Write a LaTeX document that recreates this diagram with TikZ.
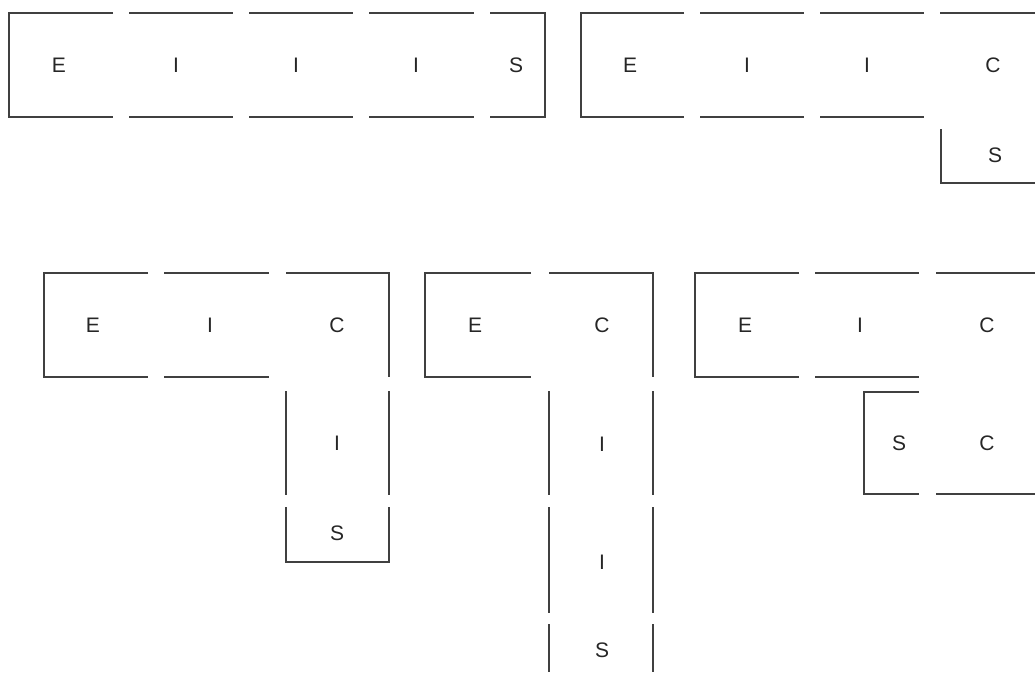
\documentclass[tikz,border=0pt]{standalone}
\usepackage{fontspec}
\setmainfont{Liberation Sans}
\tikzset{
  box/.style={draw=black!75,line width=1.6pt},
  lbl/.style={inner sep=0pt,text=black!85,font=\fontsize{21}{21}\selectfont}
}
\begin{document}
\begin{tikzpicture}[x=1pt,y=-1pt]
  \useasboundingbox (0,0) rectangle (1035,672);
  \clip (0,0) rectangle (1035,672);
  \draw[box] (113,13)--(9,13)--(9,117)--(113,117);
  \draw[box] (129,13)--(233,13);
  \draw[box] (129,117)--(233,117);
  \draw[box] (249,13)--(353,13);
  \draw[box] (249,117)--(353,117);
  \draw[box] (369,13)--(474,13);
  \draw[box] (369,117)--(474,117);
  \draw[box] (490,13)--(545,13)--(545,117)--(490,117);
  \node[lbl] (a1) at (59,65) {E};
  \node[lbl] (a2) at (176,65) {I};
  \node[lbl] (a3) at (296,65) {I};
  \node[lbl] (a4) at (416,65) {I};
  \node[lbl] (a5) at (516,65) {S};

  \draw[box] (684,13)--(581,13)--(581,117)--(684,117);
  \draw[box] (700,13)--(804,13);
  \draw[box] (700,117)--(804,117);
  \draw[box] (820,13)--(924,13);
  \draw[box] (820,117)--(924,117);
  \draw[box] (940,13)--(1035,13);
  \draw[box] (941,129)--(941,183)--(1035,183);
  \node[lbl] (b1) at (630,65) {E};
  \node[lbl] (b2) at (747,65) {I};
  \node[lbl] (b3) at (867,65) {I};
  \node[lbl] (b4) at (993,65) {C};
  \node[lbl] (b5) at (995,155) {S};

  \draw[box] (148,273)--(44,273)--(44,377)--(148,377);
  \draw[box] (164,273)--(269,273);
  \draw[box] (164,377)--(269,377);
  \draw[box] (286,273)--(389,273)--(389,377);
  \draw[box] (286,391)--(286,495);
  \draw[box] (389,391)--(389,495);
  \draw[box] (286,507)--(286,562)--(389,562)--(389,507);
  \node[lbl] (c1) at (93,325) {E};
  \node[lbl] (c2) at (210,325) {I};
  \node[lbl] (c3) at (337,325) {C};
  \node[lbl] (c4) at (337,443) {I};
  \node[lbl] (c5) at (337,533) {S};

  \draw[box] (531,273)--(425,273)--(425,377)--(531,377);
  \draw[box] (549,273)--(653,273)--(653,377);
  \draw[box] (549,391)--(549,495);
  \draw[box] (653,391)--(653,495);
  \draw[box] (549,507)--(549,613);
  \draw[box] (653,507)--(653,613);
  \draw[box] (549,624)--(549,672);
  \draw[box] (653,624)--(653,672);
  \node[lbl] (d1) at (475,325) {E};
  \node[lbl] (d2) at (602,325) {C};
  \node[lbl] (d3) at (602,444) {I};
  \node[lbl] (d4) at (602,562) {I};
  \node[lbl] (d5) at (602,650) {S};

  \draw[box] (799,273)--(695,273)--(695,377)--(799,377);
  \draw[box] (815,273)--(919,273);
  \draw[box] (815,377)--(919,377);
  \draw[box] (936,273)--(1035,273);
  \draw[box] (919,392)--(864,392)--(864,494)--(919,494);
  \draw[box] (936,494)--(1035,494);
  \node[lbl] (e1) at (745,325) {E};
  \node[lbl] (e2) at (860,325) {I};
  \node[lbl] (e3) at (987,325) {C};
  \node[lbl] (e4) at (899,443) {S};
  \node[lbl] (e5) at (987,443) {C};
\end{tikzpicture}
\end{document}
